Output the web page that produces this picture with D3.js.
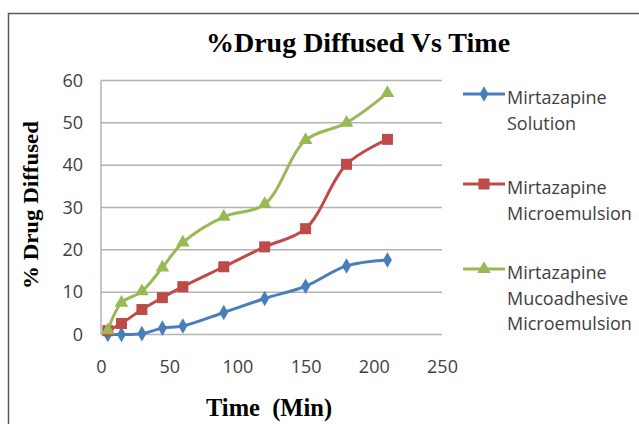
<!DOCTYPE html>
<html><head><meta charset="utf-8">
<script src="https://cdn.jsdelivr.net/npm/d3@7"></script>
<style>body{margin:0;background:#fff}svg{display:block}</style>
</head><body>
<svg id="chart" width="639" height="424"></svg>
<script>
const times = [5, 15, 30, 45, 60, 90, 120, 150, 180, 210];
const solution = [0, 0, 0.2, 1.5, 2, 5.2, 8.5, 11.4, 16.2, 17.6];
const microemulsion = [0.9, 2.6, 5.9, 8.7, 11.3, 16, 20.7, 25, 40.2, 46.1];
const mucoadhesive = [1, 7.5, 10.2, 15.8, 21.7, 27.8, 30.8, 45.9, 50, 57];
const xTicks = [0, 50, 100, 150, 200, 250];
const yTicks = [0, 10, 20, 30, 40, 50, 60];
const seriesNames = [["Mirtazapine", "Solution"], ["Mirtazapine", "Microemulsion"], ["Mirtazapine", "Mucoadhesive", "Microemulsion"]];
const colors = ["#4a7ebb", "#be4b48", "#98b954"];

const svg = d3.select("#chart");
const x = d3.scaleLinear().domain([0, 250]).range([101, 442]);
const y = d3.scaleLinear().domain([0, 60]).range([334.5, 80.5]);

// frame
svg.append("path").attr("d", "M8.5,424 L8.5,13.5 L639,13.5").attr("fill", "none").attr("stroke", "#5a5a5a").attr("stroke-width", 1.5);

// title
svg.append("text").attr("x", 358).attr("y", 52).attr("text-anchor", "middle")
  .attr("font-family", "Liberation Serif").attr("font-weight", "bold").attr("font-size", 28)
  .text("%Drug Diffused Vs Time");

// gridlines
svg.append("g").selectAll("line").data(yTicks).join("line")
  .attr("x1", x(0)).attr("x2", x(250)).attr("y1", d => y(d)).attr("y2", d => y(d))
  .attr("stroke", "#b3b3b3").attr("stroke-width", 1.5);
svg.append("line").attr("x1", x(0)).attr("x2", x(0)).attr("y1", y(60)).attr("y2", y(0))
  .attr("stroke", "#b3b3b3").attr("stroke-width", 1.5);

// axes labels via d3 axes
const yAxis = svg.append("g").attr("transform", `translate(${x(0)},0)`)
  .call(d3.axisLeft(y).tickValues(yTicks).tickSize(0).tickPadding(18));
const xAxis = svg.append("g").attr("transform", `translate(0,${y(0)})`)
  .call(d3.axisBottom(x).tickValues(xTicks).tickSize(0).tickPadding(26));
[yAxis, xAxis].forEach(a => {
  a.select(".domain").remove();
  a.selectAll("text").attr("font-family", "Open Sans").attr("font-size", 18).attr("fill", "#404040");
});

// axis titles
svg.append("text").attr("transform", "translate(38,205) rotate(-90)").attr("text-anchor", "middle")
  .attr("font-family", "Liberation Serif").attr("font-weight", "bold").attr("font-size", 22)
  .attr("textLength", 168).attr("lengthAdjust", "spacingAndGlyphs")
  .text("% Drug Diffused");
svg.append("text").attr("x", 269).attr("y", 416).attr("text-anchor", "middle")
  .attr("font-family", "Liberation Serif").attr("font-weight", "bold").attr("font-size", 24.5)
  .text("Time\u00a0 (Min)");

const allSeries = [solution, microemulsion, mucoadhesive];
const line = d3.line().x(d => x(d[0])).y(d => y(d[1])).curve(d3.curveCatmullRom.alpha(0.5));

function marker(g, i, cx, cy) {
  if (i === 0) {
    g.append("path").attr("d", d3.symbol(d3.symbolDiamond, 70)()).attr("transform", `translate(${cx},${cy})`).attr("fill", colors[i]);
  } else if (i === 1) {
    g.append("rect").attr("x", cx - 5.5).attr("y", cy - 5.5).attr("width", 11).attr("height", 11).attr("fill", colors[i]);
  } else {
    g.append("path").attr("d", d3.symbol(d3.symbolTriangle, 80)()).attr("transform", `translate(${cx},${cy})`).attr("fill", colors[i]);
  }
}

allSeries.forEach((vals, i) => {
  const pts = times.map((t, k) => [t, vals[k]]);
  svg.append("path").datum(pts).attr("d", line).attr("fill", "none")
    .attr("stroke", colors[i]).attr("stroke-width", 3).attr("stroke-linejoin", "round");
  const g = svg.append("g");
  pts.forEach(p => marker(g, i, x(p[0]), y(p[1])));
});

// legend
const legendY = [94, 184, 269];
seriesNames.forEach((lines, i) => {
  const ly = legendY[i];
  svg.append("line").attr("x1", 463).attr("x2", 505).attr("y1", ly).attr("y2", ly)
    .attr("stroke", colors[i]).attr("stroke-width", 3);
  marker(svg.append("g"), i, 484, ly);
  const t = svg.append("text").attr("font-family", "Open Sans").attr("font-size", 18).attr("fill", "#404040");
  lines.forEach((s, k) => t.append("tspan").attr("x", 507).attr("y", ly + 10 + k * 25.5).text(s));
});
</script>
</body></html>
